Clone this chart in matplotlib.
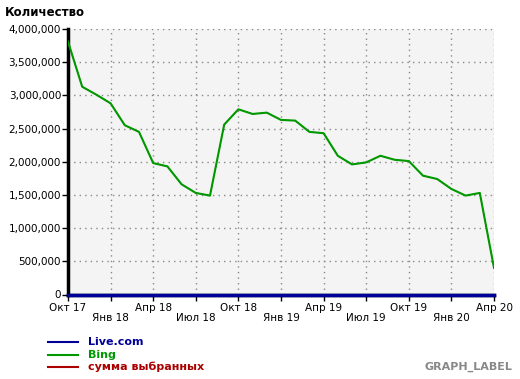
import numpy as np
import pandas as pd
import matplotlib
matplotlib.use("Agg")
import matplotlib.pyplot as plt
from matplotlib.ticker import FuncFormatter

# Monthly values, Oct 2017 .. Apr 2020
months = pd.date_range("2017-10-01", "2020-04-01", freq="MS")
bing = [3.81, 3.13, 3.01, 2.88, 2.55, 2.45, 1.98, 1.93, 1.66, 1.53, 1.49,
        2.56, 2.79, 2.72, 2.74, 2.63, 2.62, 2.45, 2.43, 2.09, 1.96, 1.99,
        2.09, 2.03, 2.01, 1.79, 1.74, 1.59, 1.49, 1.53, 0.40]
bing = [v * 1e6 for v in bing]
live = [0] * len(months)
total = [b + l for b, l in zip(bing, live)]

tick_labels = ["Окт 17", "Янв 18", "Апр 18", "Июл 18", "Окт 18", "Янв 19",
               "Апр 19", "Июл 19", "Окт 19", "Янв 20", "Апр 20"]
y_ticks = [0, 500000, 1000000, 1500000, 2000000, 2500000, 3000000, 3500000, 4000000]

col_live = "#000099"
col_bing = "#009900"
col_sum = "#aa0000"

fig = plt.figure(figsize=(5.2, 3.79), dpi=100)
ax = fig.add_axes([68 / 520, 1 - 294.5 / 379, 426 / 520, 265.5 / 379])
ax.set_facecolor("#f4f4f4")

x = np.arange(len(months))
# sum of selected equals Bing here, so it sits hidden under the green line
ax.plot(x, total, color=col_sum, lw=0.6, zorder=3)
ax.plot(x, bing, color=col_bing, lw=1.5, zorder=4)
ax.plot(x, live, color=col_live, lw=2.5, zorder=5, clip_on=False)

ax.set_xlim(0, len(months) - 1)
ax.set_ylim(0, 4000000)
ax.set_yticks(y_ticks)
ax.yaxis.set_major_formatter(FuncFormatter(lambda v, p: f"{int(v):,}"))

ax.set_xticks(np.arange(0, len(months), 3))
labels = [lab if i % 2 == 0 else "\n" + lab for i, lab in enumerate(tick_labels)]
ax.set_xticklabels(labels, linespacing=1.0)

ax.grid(True, color="#888888", linestyle=(0, (1, 3)), lw=1)
ax.set_axisbelow(True)
for s in ["top", "right"]:
    ax.spines[s].set_visible(False)
ax.spines["left"].set_linewidth(2.5)
ax.spines["bottom"].set_linewidth(2.5)
ax.tick_params(axis="both", labelsize=7.5, length=4, width=1, pad=1)
ax.tick_params(axis="x", pad=2)

fig.text(5 / 520, 1 - 12 / 379, "Количество", fontsize=8.5, fontweight="bold",
         va="center", ha="left")

# legend drawn by hand like the original
entries = [("Live.com", col_live), ("Bing", col_bing), ("сумма выбранных", col_sum)]
for i, (name, c) in enumerate(entries):
    yy = 1 - (342 + 12.5 * i) / 379
    fig.add_artist(plt.Line2D([48 / 520, 78 / 520], [yy, yy], color=c, lw=1.5))
    fig.text(88 / 520, yy, name, color=c, fontsize=8, fontweight="bold", va="center")

fig.text(512 / 520, 1 - 367 / 379, "GRAPH_LABEL", color="#888888", fontsize=8,
         fontweight="bold", ha="right", va="center")

fig.savefig("out.png", dpi=100)
